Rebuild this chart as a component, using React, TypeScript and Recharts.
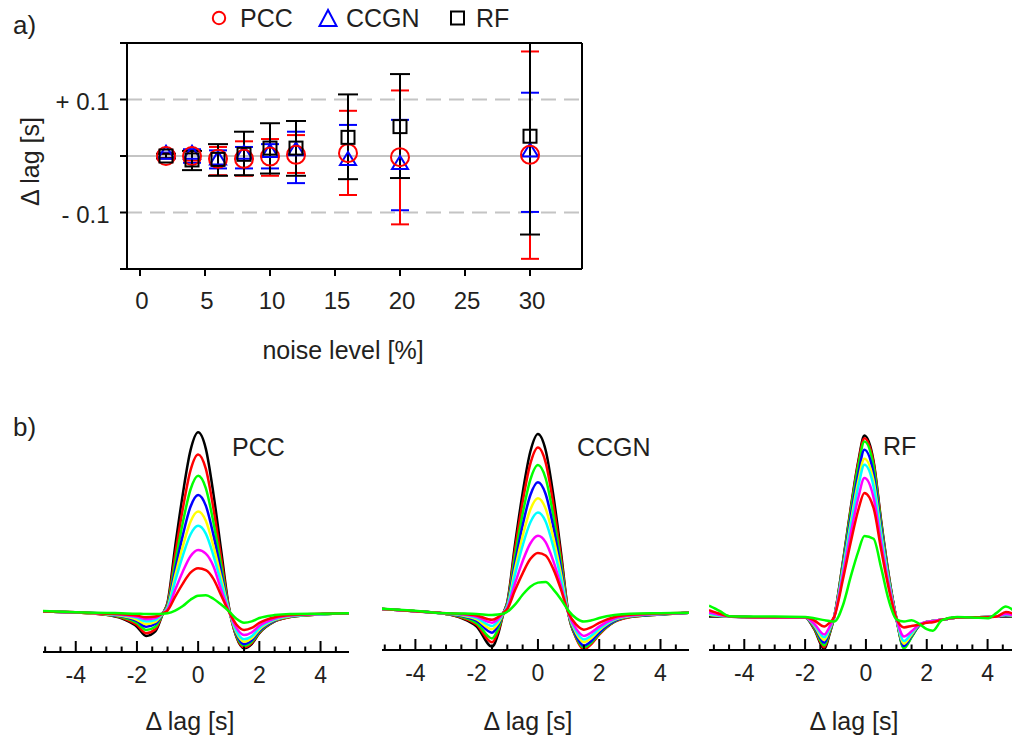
import React from 'react';
import {
  ScatterChart, Scatter, XAxis, YAxis, ErrorBar, ReferenceLine, Legend,
  LineChart, Line,
} from 'recharts';

const FONT = '"Liberation Sans", Arial, Helvetica, sans-serif';
const INK = '#231f20';

// ---------- panel a) ----------
const noiseLevels = [2, 4, 6, 8, 10, 12, 16, 20, 30];
const pccMean = [0, 0, -0.005, -0.005, -0.001, 0.002, 0.005, -0.002, 0.002];
const pccLow = [-0.004, -0.008, -0.034, -0.035, -0.035, -0.03, -0.069, -0.121, -0.182];
const pccHigh = [0.004, 0.008, 0.016, 0.026, 0.03, 0.037, 0.08, 0.116, 0.185];
const ccgnMean = [0.004, 0.004, -0.006, 0.004, 0.007, 0.01, -0.007, -0.014, 0.008];
const ccgnLow = [-0.004, -0.012, -0.022, -0.022, -0.022, -0.048, -0.069, -0.096, -0.099];
const ccgnHigh = [0.006, 0.012, 0.01, 0.016, 0.021, 0.043, 0.055, 0.064, 0.112];
const rfMean = [0, -0.007, -0.006, 0.003, 0.014, 0.014, 0.033, 0.052, 0.035];
const rfLow = [-0.004, -0.025, -0.035, -0.034, -0.031, -0.035, -0.041, -0.039, -0.139];
const rfHigh = [0.004, 0.009, 0.021, 0.043, 0.058, 0.062, 0.109, 0.145, 0.2];
const noiseTicks = [0, 5, 10, 15, 20, 25, 30];
const lagTicks = [-0.2, -0.1, 0, 0.1, 0.2];
const lagTickLabels = ['', '- 0.1', '', '+ 0.1', ''];
const legendNames = ['PCC', 'CCGN', 'RF'];

// ---------- panel b) ----------
const curveColors = ['#000000', '#ff0000', '#00ff00', '#0000ff', '#ffff00', '#00ffff', '#ff00ff', '#ff0000', '#00ff00'];
const lagMinorTicks = [-5, -4.5, -4, -3.5, -3, -2.5, -2, -1.5, -1, -0.5, 0, 0.5, 1, 1.5, 2, 2.5, 3, 3.5, 4, 4.5];

const pccLag = [-5.1, -4, -3, -2.5, -2, -1.7, -1.4, -1.15, -1, -0.75, -0.5, -0.25, 0, 0.25, 0.5, 0.75, 1, 1.25, 1.5, 1.75, 2, 2.5, 3, 4, 5];
const pccBlack = [0.01, 0.005, -0.008, -0.028, -0.074, -0.125, -0.1, 0.0, 0.06, 0.37, 0.66, 0.9, 1.0, 0.91, 0.66, 0.35, 0.04, -0.13, -0.193, -0.17, -0.11, -0.045, -0.02, -0.006, 0.0];
const pccRed1 = [0.01, 0.005, -0.008, -0.025, -0.065, -0.11, -0.088, 0.0, 0.053, 0.325, 0.579, 0.79, 0.878, 0.799, 0.579, 0.307, 0.035, -0.127, -0.188, -0.165, -0.107, -0.044, -0.02, -0.006, 0.0];
const pccGreen1 = [0.01, 0.005, -0.007, -0.021, -0.054, -0.092, -0.074, 0.0, 0.046, 0.281, 0.502, 0.684, 0.76, 0.692, 0.502, 0.266, 0.03, -0.121, -0.18, -0.158, -0.103, -0.042, -0.019, -0.006, 0.0];
const pccBlue = [0.01, 0.005, -0.006, -0.017, -0.044, -0.074, -0.059, 0.0, 0.039, 0.242, 0.432, 0.589, 0.654, 0.595, 0.432, 0.229, 0.026, -0.115, -0.171, -0.15, -0.097, -0.04, -0.018, -0.005, 0.0];
const pccYellow = [0.01, 0.005, -0.005, -0.014, -0.036, -0.06, -0.048, 0.0, 0.034, 0.208, 0.371, 0.506, 0.562, 0.511, 0.371, 0.197, 0.022, -0.106, -0.157, -0.138, -0.09, -0.037, -0.017, -0.005, 0.0];
const pccCyan = [0.01, 0.005, -0.004, -0.011, -0.027, -0.046, -0.037, 0.0, 0.029, 0.179, 0.319, 0.435, 0.483, 0.44, 0.319, 0.169, 0.019, -0.097, -0.144, -0.127, -0.082, -0.034, -0.015, -0.005, 0.0];
const pccMagenta = [0.01, 0.005, -0.003, -0.008, -0.02, -0.033, -0.026, 0.0, 0.021, 0.13, 0.231, 0.315, 0.35, 0.33, 0.26, 0.13, 0.014, -0.081, -0.12, -0.106, -0.069, -0.029, -0.013, -0.004, 0.0];
const pccRed2 = [0.01, 0.005, -0.002, -0.006, -0.013, -0.022, -0.018, 0.0, 0.015, 0.092, 0.164, 0.224, 0.249, 0.238, 0.19, 0.1, 0.01, -0.062, -0.092, -0.081, -0.053, -0.022, -0.01, -0.003, 0.0];
const pccGreen2 = [0.013, 0.006, 0.002, 0.0, -0.002, -0.004, -0.004, -0.003, 0.0, 0.015, 0.04, 0.075, 0.097, 0.1, 0.08, 0.048, 0.012, -0.03, -0.052, -0.045, -0.026, -0.01, -0.004, -0.002, 0.0];

const ccgnLag = [-5.1, -4, -3, -2.5, -2, -1.5, -1.3, -1.12, -1, -0.75, -0.5, -0.25, 0, 0.25, 0.5, 0.75, 1, 1.25, 1.5, 1.75, 2, 2.5, 3, 4, 5];
const ccgnBlack = [0.02, 0.008, -0.007, -0.03, -0.078, -0.19, -0.12, 0.0, 0.06, 0.38, 0.67, 0.9, 1.0, 0.91, 0.66, 0.34, -0.01, -0.14, -0.2, -0.17, -0.12, -0.05, -0.024, -0.01, 0.0];
const ccgnRed1 = [0.02, 0.008, -0.007, -0.027, -0.068, -0.166, -0.105, 0.0, 0.055, 0.351, 0.619, 0.832, 0.924, 0.841, 0.61, 0.314, -0.01, -0.144, -0.205, -0.174, -0.123, -0.051, -0.025, -0.01, 0.0];
const ccgnGreen1 = [0.02, 0.008, -0.007, -0.023, -0.059, -0.144, -0.091, 0.0, 0.05, 0.314, 0.553, 0.743, 0.826, 0.752, 0.545, 0.281, -0.01, -0.137, -0.195, -0.166, -0.117, -0.049, -0.023, -0.01, 0.0];
const ccgnBlue = [0.02, 0.008, -0.006, -0.018, -0.046, -0.112, -0.071, 0.0, 0.044, 0.277, 0.489, 0.657, 0.73, 0.664, 0.482, 0.248, -0.009, -0.13, -0.185, -0.157, -0.111, -0.046, -0.022, -0.009, 0.0];
const ccgnYellow = [0.02, 0.008, -0.006, -0.015, -0.038, -0.093, -0.059, 0.0, 0.038, 0.243, 0.429, 0.576, 0.64, 0.582, 0.422, 0.218, -0.008, -0.116, -0.165, -0.14, -0.099, -0.041, -0.02, -0.008, 0.0];
const ccgnCyan = [0.02, 0.008, -0.005, -0.012, -0.031, -0.075, -0.047, 0.0, 0.034, 0.213, 0.375, 0.504, 0.56, 0.51, 0.37, 0.19, -0.008, -0.105, -0.15, -0.128, -0.09, -0.038, -0.018, -0.008, 0.0];
const ccgnMagenta = [0.02, 0.008, -0.005, -0.009, -0.023, -0.056, -0.035, 0.0, 0.026, 0.163, 0.288, 0.387, 0.43, 0.395, 0.29, 0.15, -0.006, -0.091, -0.13, -0.11, -0.078, -0.033, -0.016, -0.007, 0.0];
const ccgnRed2 = [0.02, 0.008, -0.004, -0.007, -0.016, -0.04, -0.025, 0.0, 0.02, 0.125, 0.22, 0.3, 0.334, 0.32, 0.245, 0.13, -0.004, -0.067, -0.095, -0.081, -0.057, -0.024, -0.012, -0.005, 0.0];
const ccgnGreen2 = [0.022, 0.01, -0.004, -0.005, -0.007, -0.013, -0.01, -0.005, 0.005, 0.045, 0.1, 0.145, 0.168, 0.172, 0.13, 0.075, 0.01, -0.032, -0.05, -0.043, -0.03, -0.013, -0.006, -0.003, 0.0];

const rfLag = [-5.16, -4.8, -4.5, -4, -3, -2, -1.7, -1.37, -1.2, -1.04, -0.75, -0.5, -0.25, -0.05, 0.25, 0.5, 0.75, 1, 1.25, 1.5, 1.75, 2, 2.2, 2.5, 3, 3.5, 4, 4.3, 4.6, 5];
const rfBlack = [0.0, 0.0, 0.0, -0.003, -0.005, -0.006, -0.07, -0.18, -0.1, 0.0, 0.31, 0.6, 0.86, 1.0, 0.86, 0.53, 0.23, -0.01, -0.17, -0.11, -0.05, -0.03, -0.025, -0.018, -0.006, -0.004, -0.003, 0.0, 0.0, 0.0];
const rfRed1 = [0.015, 0.004, 0.0, -0.003, -0.005, -0.006, -0.066, -0.17, -0.095, 0.0, 0.305, 0.59, 0.85, 0.985, 0.85, 0.52, 0.225, -0.01, -0.168, -0.11, -0.05, -0.03, -0.025, -0.018, -0.006, -0.004, -0.003, 0.0, 0.005, 0.0];
const rfGreen1 = [0.01, 0.003, 0.0, -0.003, -0.005, -0.006, -0.062, -0.16, -0.09, 0.0, 0.3, 0.58, 0.83, 0.967, 0.83, 0.51, 0.22, -0.01, -0.176, -0.115, -0.05, -0.03, -0.025, -0.018, -0.006, -0.004, -0.003, 0.0, 0.005, 0.0];
const rfBlue = [0.01, 0.003, 0.0, -0.003, -0.005, -0.005, -0.056, -0.145, -0.082, 0.0, 0.285, 0.55, 0.79, 0.921, 0.79, 0.488, 0.21, -0.01, -0.163, -0.107, -0.048, -0.03, -0.025, -0.018, -0.006, -0.004, -0.003, 0.0, 0.006, 0.0];
const rfYellow = [0.01, 0.003, 0.0, -0.003, -0.005, -0.005, -0.05, -0.13, -0.074, 0.0, 0.27, 0.52, 0.75, 0.872, 0.75, 0.462, 0.2, -0.01, -0.15, -0.1, -0.046, -0.03, -0.025, -0.018, -0.006, -0.004, -0.003, 0.0, 0.008, 0.0];
const rfCyan = [0.014, 0.004, 0.0, -0.003, -0.005, -0.005, -0.045, -0.115, -0.066, 0.0, 0.26, 0.5, 0.72, 0.839, 0.72, 0.445, 0.193, -0.01, -0.135, -0.092, -0.045, -0.03, -0.025, -0.018, -0.006, -0.004, -0.003, 0.0, 0.01, 0.0];
const rfMagenta = [0.022, 0.008, 0.0, -0.003, -0.005, -0.005, -0.04, -0.1, -0.058, 0.0, 0.237, 0.457, 0.658, 0.765, 0.658, 0.405, 0.176, -0.01, -0.11, -0.082, -0.045, -0.03, -0.025, -0.018, -0.006, -0.004, -0.003, 0.0, 0.014, 0.0];
const rfRed2 = [0.035, 0.015, 0.002, -0.002, -0.004, -0.004, -0.022, -0.055, -0.035, 0.0, 0.21, 0.41, 0.59, 0.683, 0.6, 0.37, 0.155, -0.008, -0.06, -0.052, -0.045, -0.035, -0.032, -0.018, -0.006, -0.004, -0.004, 0.0, 0.025, 0.005];
const rfGreen2 = [0.06, 0.03, 0.002, 0.0, 0.0, -0.002, -0.01, -0.02, -0.025, -0.028, 0.065, 0.22, 0.36, 0.445, 0.43, 0.27, 0.09, -0.015, -0.028, -0.02, -0.04, -0.07, -0.078, -0.02, -0.003, -0.005, -0.01, 0.02, 0.055, 0.01];

const pccCurves = [pccBlack, pccRed1, pccGreen1, pccBlue, pccYellow, pccCyan, pccMagenta, pccRed2, pccGreen2];
const ccgnCurves = [ccgnBlack, ccgnRed1, ccgnGreen1, ccgnBlue, ccgnYellow, ccgnCyan, ccgnMagenta, ccgnRed2, ccgnGreen2];
const rfCurves = [rfBlack, rfRed1, rfGreen1, rfBlue, rfYellow, rfCyan, rfMagenta, rfRed2, rfGreen2];

// ---------- helpers ----------
function errRows(mean: number[], low: number[], high: number[]) {
  return noiseLevels.map((x, i) => ({ x, y: mean[i], err: [mean[i] - low[i], high[i] - mean[i]] }));
}
function curveRows(xs: number[], curves: number[][]) {
  return xs.map((x, i) => {
    const row: any = { x };
    curves.forEach((c, k) => { row['c' + k] = c[i]; });
    return row;
  });
}

const circleShape = (p: any) => (
  <circle cx={p.cx} cy={p.cy} r={9} fill="none" stroke="#ff0000" strokeWidth={2} />
);
const triangleShape = (p: any) => (
  <polygon points={`${p.cx},${p.cy - 8} ${p.cx - 8},${p.cy + 5} ${p.cx + 8},${p.cy + 5}`} fill="none" stroke="#0000ff" strokeWidth={2} />
);
const squareShape = (p: any) => (
  <rect x={p.cx - 6.5} y={p.cy - 6.5} width={13} height={13} fill="none" stroke="#000000" strokeWidth={2} />
);

const frame = { stroke: '#000', strokeWidth: 2 };

const NoiseTick = (p: any) => (
  <text x={p.x + 2} y={p.y + 33} textAnchor="middle" fontSize={24} fill={INK} fontFamily={FONT}>{p.payload.value}</text>
);
const LagTick = (p: any) => {
  const idx = lagTicks.findIndex((t) => Math.abs(t - p.payload.value) < 1e-9);
  const label = idx >= 0 ? lagTickLabels[idx] : '';
  return (
    <text x={p.x - 10.5} y={p.y + 10} textAnchor="end" fontSize={24} fill={INK} fontFamily={FONT}>{label}</text>
  );
};

const LegendContent = () => {
  const icons = [
    <circle key="c" cx={219} cy={18} r={6.2} fill="none" stroke="#ff0000" strokeWidth={2} />,
    <polygon key="t" points="328,10 319.5,26 336.5,26" fill="none" stroke="#0000ff" strokeWidth={2} />,
    <rect key="s" x={451} y={11.5} width={13} height={13} fill="none" stroke="#000" strokeWidth={2} />,
  ];
  const textX = [240, 346, 476];
  return (
    <svg width={640} height={40} style={{ display: 'block' }}>
      {icons}
      {legendNames.map((n, i) => (
        <text key={n} x={textX[i]} y={27} fontSize={25} fill={INK} fontFamily={FONT}>{n}</text>
      ))}
    </svg>
  );
};

const BottomTick = (p: any) => {
  const v = p.payload.value;
  const major = Math.abs(v - Math.round(v)) < 1e-6 && Math.round(v) % 2 === 0;
  return (
    <g>
      <line x1={p.x} x2={p.x} y1={p.y} y2={p.y - (major ? 11 : 5.5)} stroke="#000" strokeWidth={2} />
      {major && (
        <text x={p.x} y={p.y + 31} textAnchor="middle" fontSize={23} fill={INK} fontFamily={FONT}>{v}</text>
      )}
    </g>
  );
};

function LagPanel(props: { xs: number[]; curves: number[][]; left: number; width: number; axisY: number; xDomain: number[]; yDomain: number[] }) {
  const { xs, curves, left, width, axisY, xDomain, yDomain } = props;
  const data = curveRows(xs, curves);
  const plotH = axisY - 420;
  return (
    <div style={{ position: 'absolute', left, top: 420 }}>
      <LineChart width={width} height={plotH + 50} data={data} margin={{ top: 0, right: 0, left: 0, bottom: 0 }}>
        <XAxis dataKey="x" type="number" domain={xDomain} allowDataOverflow ticks={lagMinorTicks} interval={0}
          height={50} tickLine={false} tickSize={0} tickMargin={0} axisLine={frame} tick={BottomTick} />
        <YAxis hide type="number" domain={yDomain} allowDataOverflow />
        {curves.map((_, k) => (
          <Line key={k} type="monotone" dataKey={'c' + k} stroke={curveColors[k]} strokeWidth={2.5}
            dot={false} activeDot={false} isAnimationActive={false} />
        ))}
      </LineChart>
    </div>
  );
}

export default function App() {
  const pccRows = errRows(pccMean, pccLow, pccHigh);
  const ccgnRows = errRows(ccgnMean, ccgnLow, ccgnHigh);
  const rfRows = errRows(rfMean, rfLow, rfHigh);
  return (
    <div style={{ position: 'fixed', left: 0, top: 0, width: 1012, height: 744, overflow: 'hidden', background: '#fff', fontFamily: FONT }}>
      <div style={{ position: 'absolute', left: 0, top: 0 }}>
        <ScatterChart width={640} height={380} margin={{ top: 33, right: 48, bottom: 0, left: 0 }}>
          <XAxis xAxisId="b" type="number" dataKey="x" domain={[-1, 34]} allowDataOverflow ticks={noiseTicks} interval={0}
            orientation="bottom" height={111} tickSize={7} tickMargin={0} axisLine={frame} tickLine={frame} tick={NoiseTick} />
          <XAxis xAxisId="t" type="number" dataKey="x" domain={[-1, 34]} allowDataOverflow ticks={noiseTicks} interval={0}
            orientation="top" height={10} tickSize={7} axisLine={frame} tickLine={frame} tick={false} />
          <YAxis yAxisId="l" type="number" dataKey="y" domain={[-0.2, 0.2]} allowDataOverflow ticks={lagTicks} interval={0}
            width={127} tickSize={7} tickMargin={0} axisLine={frame} tickLine={frame} tick={LagTick} />
          <YAxis yAxisId="r" orientation="right" type="number" dataKey="y" domain={[-0.2, 0.2]} allowDataOverflow ticks={lagTicks} interval={0}
            width={10} tickSize={7} axisLine={frame} tickLine={frame} tick={false} />
          <ReferenceLine xAxisId="b" yAxisId="l" y={0.1} stroke="#c4c4c4" strokeWidth={2} strokeDasharray="15 8" />
          <ReferenceLine xAxisId="b" yAxisId="l" y={-0.1} stroke="#c4c4c4" strokeWidth={2} strokeDasharray="15 8" />
          <ReferenceLine xAxisId="b" yAxisId="l" y={0} stroke="#c4c4c4" strokeWidth={2} />
          <Scatter name="CCGN" xAxisId="b" yAxisId="l" data={ccgnRows} dataKey="y" fill="#0000ff" shape={triangleShape} isAnimationActive={false}>
            <ErrorBar dataKey="err" direction="y" width={9} stroke="#0000ff" strokeWidth={2} isAnimationActive={false} />
          </Scatter>
          <Scatter name="PCC" xAxisId="b" yAxisId="l" data={pccRows} dataKey="y" fill="#ff0000" shape={circleShape} isAnimationActive={false}>
            <ErrorBar dataKey="err" direction="y" width={9} stroke="#ff0000" strokeWidth={2} isAnimationActive={false} />
          </Scatter>
          <Scatter name="RF" xAxisId="b" yAxisId="l" data={rfRows} dataKey="y" fill="#000000" shape={squareShape} isAnimationActive={false}>
            <ErrorBar dataKey="err" direction="y" width={10} stroke="#000000" strokeWidth={2} isAnimationActive={false} />
          </Scatter>
          <Legend layout="vertical" verticalAlign="middle" align="center"
            wrapperStyle={{ position: 'absolute', left: 0, top: 0, width: 640, height: 40, margin: 0, padding: 0 }}
            content={LegendContent} />
        </ScatterChart>
      </div>

      <LagPanel xs={pccLag} curves={pccCurves} left={43} width={306} axisY={652} xDomain={[-5.07, 4.93]} yDomain={[-0.214, 1.068]} />
      <LagPanel xs={ccgnLag} curves={ccgnCurves} left={382} width={307} axisY={650} xDomain={[-5.09, 4.93]} yDomain={[-0.209, 1.078]} />
      <LagPanel xs={rfLag} curves={rfCurves} left={709} width={309} axisY={650} xDomain={[-5.16, 5.0]} yDomain={[-0.185, 1.086]} />

      <svg width={1012} height={744} style={{ position: 'absolute', left: 0, top: 0, pointerEvents: 'none' }}>
        <g fontFamily={FONT} fill={INK}>
          <text x={13} y={34} fontSize={26}>a)</text>
          <text x={13} y={436} fontSize={26}>b)</text>
          <text x={343} y={359} fontSize={25} textAnchor="middle">noise level [%]</text>
          <text transform="translate(38.5,161.5) rotate(-90)" fontSize={25} textAnchor="middle">Δ lag [s]</text>
          <text x={232} y={456} fontSize={25}>PCC</text>
          <text x={577} y={456} fontSize={25}>CCGN</text>
          <text x={883} y={455} fontSize={25}>RF</text>
          <text x={190} y={730} fontSize={25} textAnchor="middle">Δ lag [s]</text>
          <text x={528} y={730} fontSize={25} textAnchor="middle">Δ lag [s]</text>
          <text x={854} y={730} fontSize={25} textAnchor="middle">Δ lag [s]</text>
        </g>
      </svg>
    </div>
  );
}
